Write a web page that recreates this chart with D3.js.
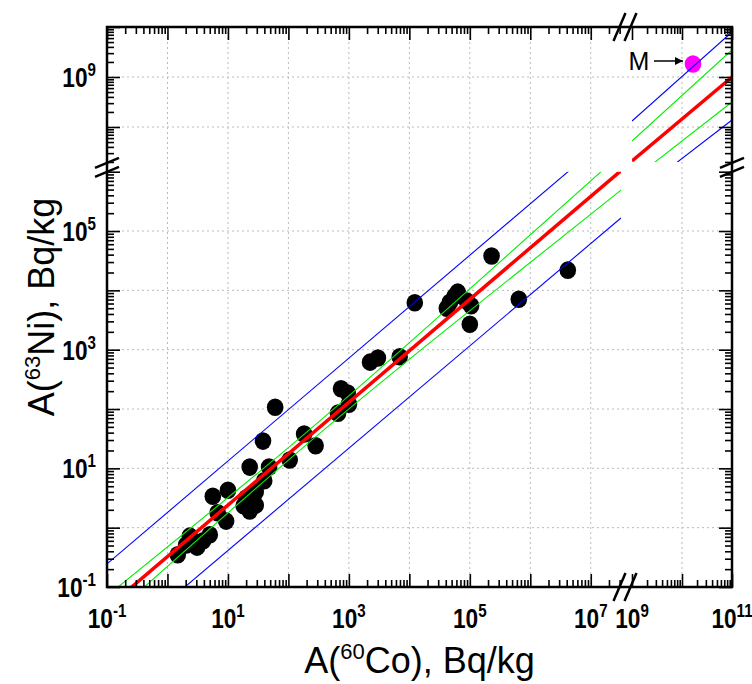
<!DOCTYPE html>
<html lang="en">
<head>
<meta charset="UTF-8">
<title>Ni-63 vs Co-60</title>
<script src="https://d3js.org/d3.v7.min.js"></script>
<style>
body{margin:0;background:#fff;}
svg{font-family:"Liberation Sans",Arial,Helvetica,sans-serif;}
.grid line{stroke:#bbb;stroke-width:1;stroke-dasharray:2,3;}
.tick line{stroke:#000;stroke-width:1.6;}
</style>
</head>
<body>
<script>
// A(60Co), A(63Ni) in Bq/kg
var co = [1.48,2.04,2.34,3.09,3.89,5.01,5.62,10.0,6.76,9.33,
  22.9,47.9,39.8,28.8,20.0,18.2,28.8,22.9,38.0,60.3,
  105,182,282,741,955,661,1000,2240,3020,6920,
  12300,63100,46800,41700,89100,105000,100000,229000,646000,4170000,56200];
var ni = [0.35,0.51,0.72,0.47,0.60,0.76,3.39,4.27,1.78,1.29,
  10.5,10.5,6.17,3.98,3.16,2.34,2.40,1.91,28.8,107,
  13.8,38.0,24.0,219,186,85.1,120,617,724,759,
  6170,9330,6310,5010,6610,5500,2690,38000,7080,21900,7940];
var pointM = [1.66e10, 1.82e9];

// fit line and bands, lower panel [Co, Ni]
var redLo = [[0.1,0.0442],[3.16e7,1.04e6]];
var greenUpLo = [[0.1,0.0708],[100,22.4],[3.16e4,3715],[3.16e7,2.0e6]];
var greenDnLo = [[0.1,0.0275],[100,13.8],[3.16e4,1778],[3.16e7,4.9e5]];
var blueUpLo = [[0.1,0.245],[3.16e7,5.75e6]];
var blueDnLo = [[0.1,0.00776],[3.16e7,1.66e5]];
// upper panel
var redHi = [[1e9,2.09e7],[1e11,1e9]];
var greenUpHi = [[1e9,5.25e7],[1e11,3.47e9]];
var greenDnHi = [[1e9,8.7e6],[1e11,3.16e8]];
var blueUpHi = [[1e9,1.32e8],[1e11,7.94e9]];
var blueDnHi = [[1e9,3.98e6],[1e11,1.38e8]];

var xLabelLo = ["-1","1","3","5","7"], xLabelHi = ["9","11"];
var yLabelLo = ["-1","1","3","5"], yLabelHi = ["9"];

var L=107, R=732, T=27, B=587;
var xLo = d3.scaleLog().domain([0.1, Math.pow(10,7.5)]).range([L, 621]);
var xHi = d3.scaleLog().domain([1e9, 1e11]).range([632, R]);
var yLo = d3.scaleLog().domain([0.1, 1e6]).range([B, 171.7]);
var yHi = d3.scaleLog().domain([Math.pow(10,7.3), 1e10]).range([162, T]);

var svg = d3.select("body").append("svg").attr("width",752).attr("height",684);
var defs = svg.append("defs");
defs.append("clipPath").attr("id","cLo").append("rect")
  .attr("x",L).attr("y",yLo.range()[1]).attr("width",xLo.range()[1]-L).attr("height",B-yLo.range()[1]);
defs.append("clipPath").attr("id","cHi").append("rect")
  .attr("x",xHi.range()[0]).attr("y",T).attr("width",R-xHi.range()[0]).attr("height",yHi.range()[0]-T);

function logTicks(sc){
  var d=sc.domain(), out={maj:[],min:[]};
  for(var k=Math.floor(Math.log10(d[0])); k<=Math.ceil(Math.log10(d[1])); k++){
    for(var m=1;m<10;m++){
      var v=m*Math.pow(10,k);
      if(v>=d[0]*0.999 && v<=d[1]*1.001){ (m==1?out.maj:out.min).push(v); }
    }
  }
  return out;
}

// grid
var grid = svg.append("g").attr("class","grid");
[xLo,xHi].forEach(function(sc){
  logTicks(sc).maj.forEach(function(v){
    var x=sc(v); if(x<L+2||x>R-2||Math.abs(x-632)<2) return;
    grid.append("line").attr("x1",x).attr("x2",x).attr("y1",T).attr("y2",B);
  });
});
[yLo,yHi].forEach(function(sc){
  logTicks(sc).maj.forEach(function(v){
    var y=sc(v); if(y<T+2||y>B-2||Math.abs(y-171.7)<2) return;
    grid.append("line").attr("x1",L).attr("x2",R).attr("y1",y).attr("y2",y);
  });
});

// data points
svg.append("g").selectAll("ellipse").data(co).enter().append("ellipse")
  .attr("cx",function(d){return xLo(d);})
  .attr("cy",function(d,i){return yLo(ni[i]);})
  .attr("rx",8.3).attr("ry",8.8).attr("fill","#000");
svg.append("ellipse").attr("cx",xHi(pointM[0])).attr("cy",yHi(pointM[1]))
  .attr("rx",8.3).attr("ry",8.7).attr("fill","#ff00ff");

// lines
function drawLines(xs,ys,clip,sets){
  var line=d3.line().x(function(d){return xs(d[0]);}).y(function(d){return ys(d[1]);}).curve(d3.curveNatural);
  var g=svg.append("g").attr("clip-path","url(#"+clip+")");
  sets.forEach(function(s){
    g.append("path").attr("d",line(s[0])).attr("fill","none").attr("stroke",s[1]).attr("stroke-width",s[2]);
  });
}
drawLines(xLo,yLo,"cLo",[[blueUpLo,"#0000ff",1.1],[blueDnLo,"#0000ff",1.1],[greenUpLo,"#00ee00",1.1],[greenDnLo,"#00ee00",1.1],[redLo,"#ff0000",3.5]]);
drawLines(xHi,yHi,"cHi",[[blueUpHi,"#0000ff",1.1],[blueDnHi,"#0000ff",1.1],[greenUpHi,"#00ee00",1.1],[greenDnHi,"#00ee00",1.1],[redHi,"#ff0000",3.5]]);

// M annotation
var mx=xHi(pointM[0]), my=yHi(pointM[1]);
defs.append("marker").attr("id","arr").attr("viewBox","0 0 10 10").attr("refX",10).attr("refY",5)
  .attr("markerWidth",11).attr("markerHeight",8).attr("markerUnits","userSpaceOnUse").attr("orient","auto")
  .append("path").attr("d","M0,0L10,5L0,10z").attr("fill","#000");
svg.append("line").attr("x1",mx-39).attr("x2",mx-10).attr("y1",my-3).attr("y2",my-3)
  .attr("stroke","#000").attr("stroke-width",1.5).attr("marker-end","url(#arr)");
svg.append("text").attr("x",mx-54).attr("y",my+6).attr("text-anchor","middle")
  .style("font-size","25px").text("M");

// axes with inward ticks
function axes(sc, mk, pos){
  var t=logTicks(sc);
  svg.append("g").attr("transform",pos).call(mk(sc).tickValues(t.maj).tickSize(13).tickSizeOuter(0).tickFormat(""))
    .call(function(g){g.select(".domain").remove();});
  svg.append("g").attr("transform",pos).call(mk(sc).tickValues(t.min).tickSize(7).tickSizeOuter(0).tickFormat(""))
    .call(function(g){g.select(".domain").remove();});
}
[xLo,xHi].forEach(function(sc){
  axes(sc,d3.axisTop,"translate(0,"+B+")");
  axes(sc,d3.axisBottom,"translate(0,"+T+")");
});
[yLo,yHi].forEach(function(sc){
  axes(sc,d3.axisRight,"translate("+L+",0)");
  axes(sc,d3.axisLeft,"translate("+R+",0)");
});

svg.append("rect").attr("x",L).attr("y",T).attr("width",R-L).attr("height",B-T)
  .attr("fill","none").attr("stroke","#000").attr("stroke-width",2.5);

// axis breaks
var bx=(xLo.range()[1]+xHi.range()[0])/2, by=(yLo.range()[1]+yHi.range()[0])/2;
[T,B].forEach(function(y){
  [0,11].forEach(function(o){
    svg.append("line").attr("x1",bx-13+o).attr("y1",y+14).attr("x2",bx-1+o).attr("y2",y-14)
      .attr("stroke","#000").attr("stroke-width",2.5);
  });
});
[L,R].forEach(function(x){
  [0,9].forEach(function(o){
    svg.append("line").attr("x1",x-12).attr("y1",by+5-o+5).attr("x2",x+12).attr("y2",by-5-o+5)
      .attr("stroke","#000").attr("stroke-width",2.5);
  });
});

// tick labels
function powLabel(x,y,e,anchor){
  var t=svg.append("text").attr("transform","translate("+x+","+y+") scale(0.84,1)")
    .attr("text-anchor",anchor).style("font-weight","bold").style("font-size","27px");
  t.append("tspan").text("10");
  t.append("tspan").attr("dy",-11).style("font-size","18px").text(e);
}
xLabelLo.forEach(function(e){powLabel(xLo(Math.pow(10,+e)),628,e,"middle");});
xLabelHi.forEach(function(e){powLabel(xHi(Math.pow(10,+e)),628,e,"middle");});
yLabelLo.forEach(function(e){powLabel(96,yLo(Math.pow(10,+e))+10,e,"end");});
yLabelHi.forEach(function(e){powLabel(96,yHi(Math.pow(10,+e))+10,e,"end");});

// axis titles
function title(t, pre, sup, post){
  t.style("font-size","36px");
  t.append("tspan").text(pre);
  t.append("tspan").attr("dy",-14).style("font-size","22px").text(sup);
  t.append("tspan").attr("dy",14).text(post);
}
title(svg.append("text").attr("x",(L+R)/2).attr("y",673).attr("text-anchor","middle"),"A(","60","Co), Bq/kg");
title(svg.append("text").attr("transform","translate(54,"+((T+B)/2)+") rotate(-90)").attr("text-anchor","middle"),"A(","63","Ni), Bq/kg");
</script>
</body>
</html>
